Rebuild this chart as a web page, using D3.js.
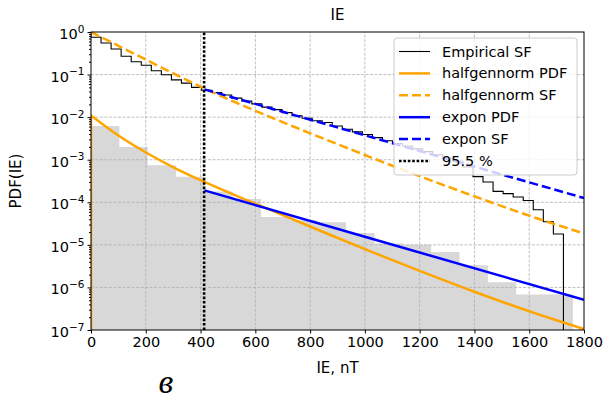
<!DOCTYPE html>
<html>
<head>
<meta charset="utf-8">
<script src="https://cdn.jsdelivr.net/npm/d3@7/dist/d3.min.js"></script>
<style>
  body { margin: 0; background: #fff; }
  svg { font-family: "DejaVu Sans", sans-serif; }
</style>
</head>
<body>
<svg id="chart" width="615" height="401"></svg>
<script>
// histogram of IE (density), bin edges in nT
const histEdges = [0, 103.5, 207, 310.5, 414, 517.5, 621, 724.5, 828, 931.5, 1035, 1138.5, 1242, 1345.5, 1449, 1552.5, 1656, 1759.5];
const histDensity = [6.2e-3, 2.0e-3, 7.4e-4, 4.0e-4, 1.8e-4, 1.2e-4, 4.5e-5, 3.8e-5, 3.4e-5, 1.9e-5, 1.07e-5, 1.0e-5, 6.8e-6, 3.3e-6, 1.33e-6, 6.8e-7, 6.8e-7];

// empirical survival function (step)
const sfX = [0, 0, 36.7, 73.4, 110.1, 146.8, 183.5, 220.2, 256.9, 293.6, 330.3, 367, 403.7, 440.4, 477.1, 513.8, 550.5, 587.2, 623.9, 660.6, 697.3, 734, 770.7, 807.4, 844.1, 880.8, 917.5, 954.2, 990.9, 1027.6, 1064.3, 1101, 1137.7, 1174.4, 1211.1, 1247.8, 1284.5, 1321.2, 1357.9, 1394.6, 1431.3, 1468, 1504.7, 1541.4, 1578.1, 1614.8, 1651.5, 1688.2, 1724.9];
const sfY = [1, 0.75, 0.55, 0.40, 0.27, 0.20, 0.165, 0.123, 0.099, 0.075, 0.063, 0.050, 0.043, 0.038, 0.033, 0.028, 0.024, 0.0205, 0.0172, 0.0150, 0.0128, 0.0108, 0.0094, 0.0082, 0.0075, 0.0062, 0.0052, 0.0045, 0.0039, 0.0033, 0.0028, 0.0024, 0.0021, 0.0018, 0.00155, 0.0013, 0.0011, 0.00092, 0.00068, 0.00040, 0.00030, 0.00018, 0.00016, 0.000133, 0.000110, 0.000067, 0.000035, 0.000018, 1e-9];

// fitted halfgennorm
const hgX = [0, 100, 207, 310, 414, 600, 800, 1000, 1200, 1400, 1600, 1800];
const hgPdf = [1.1e-2, 3.7e-3, 1.4e-3, 6.2e-4, 3.0e-4, 9.3e-5, 2.7e-5, 7.9e-6, 2.45e-6, 7.9e-7, 2.75e-7, 1.05e-7];
const hgSfX = [0, 200, 414, 600, 909, 1200, 1400, 1638, 1800];
const hgSf = [1, 0.225, 0.047, 1.41e-2, 2.2e-3, 4.1e-4, 1.38e-4, 4.0e-5, 1.85e-5];

// fitted exponential tail (from the 95.5 % quantile)
const exX = [414, 1000, 1800];
const exPdf = [1.9e-4, 1.55e-5, 5.1e-7];
const exSfX = [414, 1800];
const exSf = [4.5e-2, 1.26e-4];

const q955 = 413;

const xTicks = [0, 200, 400, 600, 800, 1000, 1200, 1400, 1600, 1800];
const yTicks = [1, 1e-1, 1e-2, 1e-3, 1e-4, 1e-5, 1e-6, 1e-7];
const yTickExp = ['0', '−1', '−2', '−3', '−4', '−5', '−6', '−7'];

const legendItems = [
  { label: 'Empirical SF', color: '#000', width: 1.1, dash: null },
  { label: 'halfgennorm PDF', color: 'orange', width: 2.5, dash: null },
  { label: 'halfgennorm SF', color: 'orange', width: 2.5, dash: '9,4' },
  { label: 'expon PDF', color: 'blue', width: 2.5, dash: null },
  { label: 'expon SF', color: 'blue', width: 2.5, dash: '9,4' },
  { label: '95.5 %', color: '#000', width: 2.6, dash: '2.6,1.8' }
];

const width = 615, height = 401;
const margin = { top: 32, right: 31, bottom: 71, left: 91 };
const svg = d3.select('#chart');

const x = d3.scaleLinear().domain([0, 1800]).range([margin.left, width - margin.right]);
const y = d3.scaleLog().domain([1e-7, 1]).range([height - margin.bottom, margin.top]).clamp(true);
const [y0, y1] = y.range();

svg.append('defs').append('clipPath').attr('id', 'plot')
  .append('rect').attr('x', x(0)).attr('y', y1).attr('width', x(1800) - x(0)).attr('height', y0 - y1);

// histogram
const histPts = histEdges.map((e, i) => [e, histDensity[Math.min(i, histDensity.length - 1)]]);
svg.append('path')
  .datum(histPts)
  .attr('fill', '#d8d8d8')
  .attr('d', d3.area().curve(d3.curveStepAfter).x(d => x(d[0])).y0(y0).y1(d => y(d[1])));

// grid
const grid = svg.append('g').attr('stroke', '#b0b0b0').attr('stroke-width', 0.8).attr('stroke-dasharray', '3,1.5');
grid.selectAll('.gx').data(xTicks.slice(1, -1)).enter().append('line')
  .attr('x1', d => x(d)).attr('x2', d => x(d)).attr('y1', y0).attr('y2', y1);
grid.selectAll('.gy').data(yTicks.slice(1, -1)).enter().append('line')
  .attr('x1', x(0)).attr('x2', x(1800)).attr('y1', d => y(d)).attr('y2', d => y(d));

const plot = svg.append('g').attr('clip-path', 'url(#plot)').attr('fill', 'none');

// empirical SF
plot.append('path')
  .datum(d3.zip(sfX, sfY))
  .attr('stroke', '#000').attr('stroke-width', 1.1)
  .attr('d', d3.line().curve(d3.curveStepAfter).x(d => x(d[0])).y(d => y(d[1])));

const smooth = d3.line().curve(d3.curveMonotoneX).x(d => x(d[0])).y(d => y(d[1]));
const straight = d3.line().x(d => x(d[0])).y(d => y(d[1]));

// halfgennorm PDF (starts from zero at x = 0)
plot.append('path')
  .attr('stroke', 'orange').attr('stroke-width', 2.5)
  .attr('d', `M${x(0)},${y0}` + smooth(d3.zip(hgX, hgPdf)).replace(/^M/, 'L'));

plot.append('path')
  .attr('stroke', 'orange').attr('stroke-width', 2.5).attr('stroke-dasharray', '9,4')
  .attr('d', smooth(d3.zip(hgSfX, hgSf)));

plot.append('path')
  .attr('stroke', 'blue').attr('stroke-width', 2.5)
  .attr('d', straight(d3.zip(exX, exPdf)));

plot.append('path')
  .attr('stroke', 'blue').attr('stroke-width', 2.5).attr('stroke-dasharray', '9,4')
  .attr('d', straight(d3.zip(exSfX, exSf)));

// 95.5 % quantile
plot.append('line')
  .attr('x1', x(q955)).attr('x2', x(q955)).attr('y1', y0).attr('y2', y1)
  .attr('stroke', '#000').attr('stroke-width', 2.6).attr('stroke-dasharray', '2.6,1.8');

// axes
const xAxis = svg.append('g')
  .attr('transform', `translate(0,${y0})`)
  .call(d3.axisBottom(x).tickValues(xTicks).tickSize(3.5).tickPadding(3).tickFormat(d3.format('d')));
xAxis.select('.domain').remove();
xAxis.selectAll('text').attr('font-size', 14.5).attr('fill', '#000').attr('font-family', '"DejaVu Sans", sans-serif');

const minor = y.ticks().filter(v => !yTicks.some(t => Math.abs(Math.log10(v) - Math.log10(t)) < 1e-6));
const yMinor = svg.append('g')
  .attr('transform', `translate(${x(0)},0)`)
  .call(d3.axisLeft(y).tickValues(minor).tickSize(2).tickFormat(''));
yMinor.select('.domain').remove();

const yAxis = svg.append('g')
  .attr('transform', `translate(${x(0)},0)`)
  .call(d3.axisLeft(y).tickValues(yTicks).tickSize(3.5).tickPadding(3).tickFormat(''));
yAxis.select('.domain').remove();
yAxis.selectAll('.tick text').each(function (d, i) {
  const t = d3.select(this)
    .attr('font-size', 14.5).attr('fill', '#000').attr('dy', '0.45em')
    .attr('font-family', '"DejaVu Sans", sans-serif');
  t.append('tspan').text('10');
  t.append('tspan').attr('dy', '-0.6em').attr('font-size', 10.5).text(yTickExp[i]);
});

// frame
svg.append('rect')
  .attr('x', x(0)).attr('y', y1).attr('width', x(1800) - x(0)).attr('height', y0 - y1)
  .attr('fill', 'none').attr('stroke', '#000').attr('stroke-width', 1);

// titles
svg.append('text').attr('x', (x(0) + x(1800)) / 2).attr('y', 20)
  .attr('text-anchor', 'middle').attr('font-size', 15).text('IE');
svg.append('text').attr('x', (x(0) + x(1800)) / 2).attr('y', 373)
  .attr('text-anchor', 'middle').attr('font-size', 15).text('IE, nT');
svg.append('text')
  .attr('transform', `translate(21,${(y0 + y1) / 2}) rotate(-90)`)
  .attr('text-anchor', 'middle').attr('font-size', 15).text('PDF(IE)');
svg.append('text').attr('x', 166).attr('y', 393)
  .attr('text-anchor', 'middle').attr('font-size', 34).attr('font-style', 'italic')
  .attr('font-family', '"Liberation Serif", serif').text('в');

// legend
const lg = svg.append('g').attr('transform', 'translate(394,38)');
lg.append('rect').attr('width', 183).attr('height', 137).attr('rx', 3)
  .attr('fill', '#fff').attr('fill-opacity', 0.8).attr('stroke', '#cccccc');
const rows = lg.selectAll('.row').data(legendItems).enter().append('g')
  .attr('transform', (d, i) => `translate(0,${13.5 + i * 21.9})`);
rows.append('line').attr('x1', 5).attr('x2', 36)
  .attr('stroke', d => d.color).attr('stroke-width', d => d.width)
  .attr('stroke-dasharray', d => d.dash);
rows.append('text').attr('x', 48).attr('dy', '0.35em').attr('font-size', 14.5).text(d => d.label);
</script>
</body>
</html>
